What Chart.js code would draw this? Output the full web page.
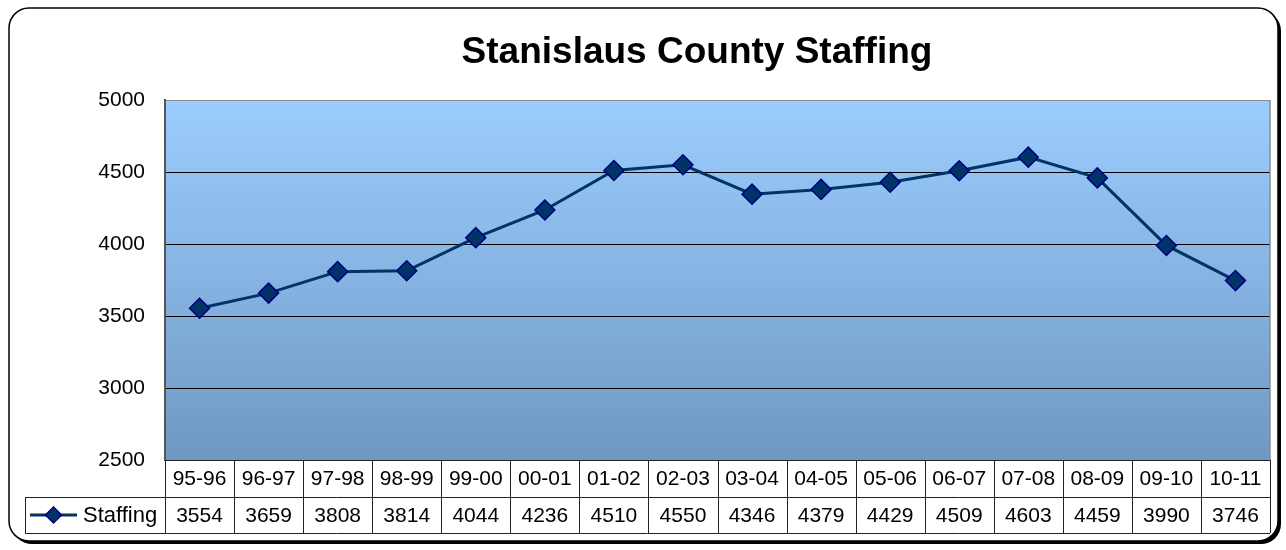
<!DOCTYPE html>
<html>
<head>
<meta charset="utf-8">
<script src="https://cdn.jsdelivr.net/npm/chart.js@4.4.1/dist/chart.umd.min.js"></script>
<style>
  body { margin: 0; background: #fff; }
  #wrap { width: 1286px; height: 550px; }
</style>
</head>
<body>
<div id="wrap"><canvas id="myChart" width="1286" height="550"></canvas></div>
<script>
// chart data
const years = ['95-96', '96-97', '97-98', '98-99', '99-00', '00-01', '01-02', '02-03',
  '03-04', '04-05', '05-06', '06-07', '07-08', '08-09', '09-10', '10-11'];
const staffing = [3554, 3659, 3808, 3814, 4044, 4236, 4510, 4550,
  4346, 4379, 4429, 4509, 4603, 4459, 3990, 3746];
const yTicks = [2500, 3000, 3500, 4000, 4500, 5000];

const FONT = '"Liberation Sans", Arial, sans-serif';
const lineColor = '#003366';

function diamond(ctx, x, y, r) {
  ctx.beginPath();
  ctx.moveTo(x, y - r);
  ctx.lineTo(x + r, y);
  ctx.lineTo(x, y + r);
  ctx.lineTo(x - r, y);
  ctx.closePath();
  ctx.fillStyle = lineColor;
  ctx.fill();
  ctx.lineWidth = 1.5;
  ctx.strokeStyle = '#000080';
  ctx.stroke();
}

// frame + gradient plot background
const backgroundPlugin = {
  id: 'background',
  beforeDraw(chart) {
    const ctx = chart.ctx;
    const a = chart.chartArea;
    ctx.save();
    ctx.fillStyle = '#fff';
    ctx.fillRect(0, 0, chart.width, chart.height);

    // rounded frame with shadow
    ctx.beginPath();
    ctx.roundRect(12, 11, 1269, 533, 20);
    ctx.fillStyle = '#000';
    ctx.fill();
    ctx.beginPath();
    ctx.roundRect(9, 8, 1269, 533, 20);
    ctx.fillStyle = '#fff';
    ctx.fill();
    ctx.lineWidth = 1.5;
    ctx.strokeStyle = '#000';
    ctx.stroke();

    const grad = ctx.createLinearGradient(0, a.top, 0, a.bottom);
    grad.addColorStop(0, '#9bcdfd');
    grad.addColorStop(0.5, '#86b3e2');
    grad.addColorStop(1, '#6f98c3');
    ctx.fillStyle = grad;
    ctx.fillRect(a.left, a.top, a.right - a.left, a.bottom - a.top);
    ctx.restore();
  }
};

// title + data table under the plot
const tablePlugin = {
  id: 'dataTable',
  afterDraw(chart) {
    const ctx = chart.ctx;
    const a = chart.chartArea;
    const x = chart.scales.x;
    const half = (x.getPixelForValue(1) - x.getPixelForValue(0)) / 2;
    const row1 = a.bottom;
    const row2 = a.bottom + 37;
    const row3 = a.bottom + 73;
    const legendLeft = 25;

    ctx.save();
    // plot border on the right
    ctx.strokeStyle = '#8c8c8c';
    ctx.lineWidth = 1.5;
    ctx.beginPath();
    ctx.moveTo(a.right, a.top);
    ctx.lineTo(a.right, a.bottom);
    ctx.stroke();

    // table lines
    ctx.strokeStyle = '#222';
    ctx.lineWidth = 1;
    ctx.beginPath();
    ctx.moveTo(legendLeft, row2 + 0.5);
    ctx.lineTo(a.right, row2 + 0.5);
    ctx.moveTo(legendLeft, row3 + 0.5);
    ctx.lineTo(a.right, row3 + 0.5);
    ctx.moveTo(legendLeft + 0.5, row2);
    ctx.lineTo(legendLeft + 0.5, row3);
    ctx.moveTo(a.left, row1 + 0.5);
    ctx.lineTo(a.right, row1 + 0.5);
    for (let i = 0; i <= years.length; i++) {
      const bx = Math.round(x.getPixelForValue(0) - half + i * half * 2) + 0.5;
      ctx.moveTo(bx, row1);
      ctx.lineTo(bx, row3);
    }
    ctx.stroke();

    // cell text
    ctx.fillStyle = '#000';
    ctx.font = '21px ' + FONT;
    ctx.textAlign = 'center';
    ctx.textBaseline = 'middle';
    years.forEach((y, i) => {
      const cx = x.getPixelForValue(i);
      ctx.fillText(y, cx, (row1 + row2) / 2 + 1);
      ctx.fillText(String(staffing[i]), cx, (row2 + row3) / 2 + 1);
    });

    // legend key
    const ly = (row2 + row3) / 2;
    ctx.strokeStyle = lineColor;
    ctx.lineWidth = 3;
    ctx.beginPath();
    ctx.moveTo(30, ly);
    ctx.lineTo(77, ly);
    ctx.stroke();
    diamond(ctx, 53.5, ly, 8);
    ctx.fillStyle = '#000';
    ctx.textAlign = 'left';
    ctx.font = '22px ' + FONT;
    ctx.fillText('Staffing', 83, ly + 1);

    // title
    ctx.font = 'bold 37px ' + FONT;
    ctx.textAlign = 'center';
    ctx.fillText('Stanislaus County Staffing', 697, 53);
    ctx.restore();
  }
};

const ctx = document.getElementById('myChart').getContext('2d');
const staffChart = new Chart(ctx, {
  type: 'line',
  data: {
    labels: years,
    datasets: [{
      label: 'Staffing',
      data: staffing,
      borderColor: lineColor,
      borderWidth: 3,
      tension: 0,
      pointStyle: 'rectRot',
      pointRadius: 10,
      pointHoverRadius: 10,
      pointBackgroundColor: lineColor,
      pointBorderColor: '#000080',
      pointBorderWidth: 1.5
    }]
  },
  options: {
    responsive: false,
    animation: false,
    layout: {
      padding: { left: 25, top: 100, right: 16, bottom: 90 }
    },
    plugins: {
      legend: { display: false },
      title: { display: false },
      tooltip: { enabled: false }
    },
    scales: {
      x: {
        display: false,
        offset: true
      },
      y: {
        min: 2500,
        max: 5000,
        afterBuildTicks(scale) {
          scale.ticks = yTicks.map(v => ({ value: v }));
        },
        afterFit(scale) {
          scale.width = 140;
        },
        ticks: {
          color: '#000',
          padding: 20,
          font: { size: 21, family: FONT },
          callback: (v) => String(v)
        },
        grid: {
          drawTicks: false,
          color: (c) => c.tick && c.tick.value === 5000 ? '#8c8c8c' : '#000',
          lineWidth: 1
        },
        border: {
          display: true,
          color: '#555',
          width: 2
        }
      }
    }
  },
  plugins: [backgroundPlugin, tablePlugin]
});
</script>
</body>
</html>
